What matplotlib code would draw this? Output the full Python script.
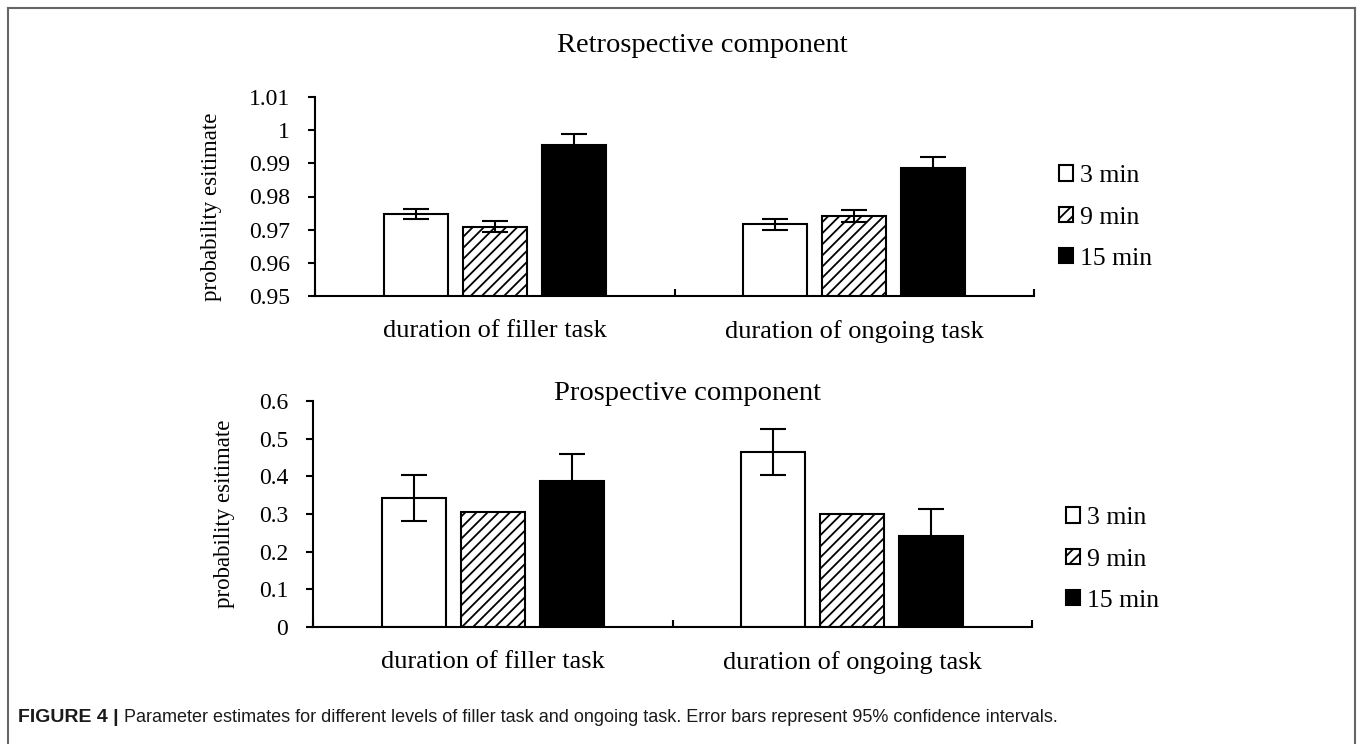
import matplotlib
matplotlib.use("Agg")
import matplotlib.pyplot as plt
from matplotlib.patches import Patch
from matplotlib.lines import Line2D
import numpy as np

# ---------------- data ----------------
categories = ["duration of filler task", "duration of ongoing task"]
series_labels = ["3 min", "9 min", "15 min"]

retro_values = {
    "3 min": [0.9747, 0.9716],
    "9 min": [0.9709, 0.9741],
    "15 min": [0.9955, 0.9887],
}
retro_errors = {
    "3 min": [0.0016, 0.0016],
    "9 min": [0.0016, 0.0018],
    "15 min": [0.0033, 0.0031],
}
prosp_values = {
    "3 min": [0.342, 0.465],
    "9 min": [0.304, 0.300],
    "15 min": [0.387, 0.241],
}
prosp_errors = {
    "3 min": [0.061, 0.061],
    "9 min": [0.0, 0.0],
    "15 min": [0.073, 0.073],
}
retro_ticks = [0.95, 0.96, 0.97, 0.98, 0.99, 1.00, 1.01]
retro_ticklabels = ["0.95", "0.96", "0.97", "0.98", "0.99", "1", "1.01"]
prosp_ticks = [0.0, 0.1, 0.2, 0.3, 0.4, 0.5, 0.6]
prosp_ticklabels = ["0", "0.1", "0.2", "0.3", "0.4", "0.5", "0.6"]

# ---------------- style ----------------
W, H = 1357, 744
plt.rcParams["font.family"] = ["Liberation Serif", "DejaVu Serif"]
plt.rcParams["hatch.linewidth"] = 1.3
styles = {
    "3 min": dict(facecolor="white", hatch=None),
    "9 min": dict(facecolor="white", hatch="///"),
    "15 min": dict(facecolor="black", hatch=None),
}

fig = plt.figure(figsize=(W / 100, H / 100), dpi=100)


def px_axes(left, right, bottom, top):
    return fig.add_axes([left / W, 1 - bottom / H, (right - left) / W, (bottom - top) / H])


def draw_panel(ax, values, errors, ticks, ticklabels, ylim, legend_xy, ylabel_x, ylabel_y):
    x = np.arange(len(categories))
    offset, width = 0.22, 0.178
    handles = []
    for j, s in enumerate(series_labels):
        st = styles[s]
        ax.bar(x + (j - 1) * offset, values[s], width,
               color=st["facecolor"], edgecolor="black", linewidth=1.5,
               hatch=st["hatch"], zorder=2)
        errs = np.array(errors[s])
        mask = errs > 0
        if mask.any():
            ax.errorbar((x + (j - 1) * offset)[mask], np.array(values[s])[mask],
                        yerr=errs[mask], fmt="none", ecolor="black",
                        elinewidth=1.5, capsize=9.5, capthick=1.5, zorder=3)
        handles.append(Patch(facecolor=st["facecolor"], edgecolor="black",
                             linewidth=1.5, hatch=st["hatch"], label=s))
    ax.set_xlim(-0.5, 1.5)
    ax.set_ylim(*ylim)
    ax.set_yticks(ticks)
    ax.set_yticklabels(ticklabels, fontsize=17)
    ax.set_xticks([-0.5, 0.5, 1.5])
    ax.set_xticklabels([])
    ax.set_xticks(x, minor=True)
    ax.set_xticklabels(categories, minor=True, fontsize=19)
    ax.tick_params(axis="x", which="major", direction="in", length=5, width=1.5)
    ax.tick_params(axis="x", which="minor", length=0, pad=17)
    ax.tick_params(axis="y", direction="out", length=5, width=1.5, pad=13)
    for sp in ["top", "right"]:
        ax.spines[sp].set_visible(False)
    for sp in ["left", "bottom"]:
        ax.spines[sp].set_linewidth(1.5)
    ax.set_ylabel("probability esitimate", fontsize=16.5)
    ax.yaxis.set_label_coords(ylabel_x, ylabel_y)
    ax.legend(handles=handles, loc="center left",
              bbox_to_anchor=(legend_xy[0] / W, 1 - legend_xy[1] / H),
              bbox_transform=fig.transFigure, frameon=False,
              fontsize=18.5, handlelength=0.55, handleheight=0.55,
              handletextpad=0.25, labelspacing=0.75,
              borderpad=0, borderaxespad=0)
    return ax


ax1 = px_axes(315, 1034, 296, 97)
draw_panel(ax1, retro_values, retro_errors, retro_ticks, retro_ticklabels,
           (0.95, 1.01), (1059, 217.5), -0.130, 0.45)
fig.text(702 / W, 1 - 45 / H, "Retrospective component", ha="center", va="center", fontsize=20.5)

ax2 = px_axes(313, 1032, 627, 401)
draw_panel(ax2, prosp_values, prosp_errors, prosp_ticks, prosp_ticklabels,
           (0.0, 0.6), (1066, 559.5), -0.108, 0.5)
fig.text(688 / W, 1 - 394 / H, "Prospective component", ha="center", va="center", fontsize=20.5)

# border
bc = "#666666"
fig.add_artist(Line2D([8 / W, 8 / W], [0, 1 - 8 / H], color=bc, lw=1.5, transform=fig.transFigure))
fig.add_artist(Line2D([8 / W, 1355 / W], [1 - 8 / H, 1 - 8 / H], color=bc, lw=1.5, transform=fig.transFigure))
fig.add_artist(Line2D([1355 / W, 1355 / W], [0, 1 - 8 / H], color=bc, lw=1.5, transform=fig.transFigure))

# caption
cap_fam = ["Liberation Sans Narrow", "Liberation Sans", "DejaVu Sans"]
cap_y = 1 - 717 / H
t1 = fig.text(18 / W, cap_y, "FIGURE 4 |", ha="left", va="center",
              fontsize=14, fontweight="bold", family=cap_fam, color="#1a1a1a")
fig.canvas.draw()
r = fig.canvas.get_renderer()
bb = t1.get_window_extent(r)
fig.text((bb.x1 + 5) / W, cap_y,
         "Parameter estimates for different levels of filler task and ongoing task. Error bars represent 95% confidence intervals.",
         ha="left", va="center", fontsize=13, family=cap_fam, color="#1a1a1a")

fig.savefig("out.png", dpi=100)
